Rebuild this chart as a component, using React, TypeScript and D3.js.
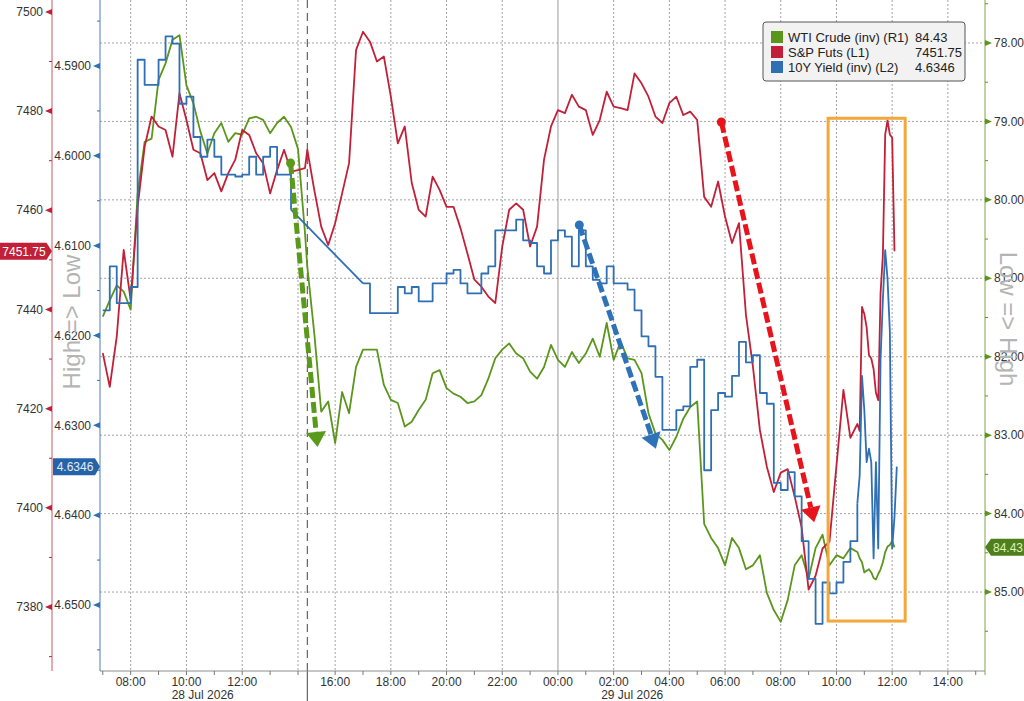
import { useEffect, useRef } from 'react';
import * as d3 from 'd3';

const WIDTH = 1024;
const HEIGHT = 701;

// Values. Session 1: 28 Jul 07:00-14:15 every 15 min,
// the chart then skips to 15:00; session 2 runs to 29 Jul 10:45 every 15 min,
// and the busy last stretch 10:50-12:10 is read every 5 min.
const session1Start = new Date(2026, 6, 28, 7, 0);
const session1End = new Date(2026, 6, 28, 14, 15);
const session2Start = new Date(2026, 6, 28, 15, 0);
const session2End = new Date(2026, 6, 29, 10, 45);
const tailStart = new Date(2026, 6, 29, 10, 50);
const tailEnd = new Date(2026, 6, 29, 12, 10);

const spxSession1 = [
  7431.2, 7424.4, 7434.5, 7452.0, 7441.9, 7460.7, 7472.8, 7478.9, 7476.9, 7476.2,
  7470.8, 7483.6, 7478.2, 7472.2, 7471.5, 7466.1, 7467.5, 7463.8, 7467.5, 7470.2,
  7476.2, 7475.2, 7471.5, 7469.5, 7463.4, 7468.1, 7472.2, 7467.8, 7468.1, 7468.5,
];
const spxSession2 = [
  7472.2, 7464.1, 7456.7, 7453.0, 7457.4, 7463.4, 7469.5, 7492.3, 7496.0, 7494.0,
  7490.0, 7491.0, 7482.9, 7473.5, 7476.9, 7465.5, 7460.1, 7458.7, 7466.8, 7464.1,
  7460.7, 7460.7, 7456.4, 7451.3, 7446.0, 7444.6, 7442.6, 7441.3, 7452.7, 7460.1,
  7461.4, 7460.1, 7452.7, 7456.7, 7470.2, 7476.9, 7480.2, 7479.6, 7483.3, 7480.9,
  7480.2, 7475.2, 7478.2, 7483.9, 7480.9, 7480.6, 7480.2, 7487.6, 7485.6, 7482.9,
  7478.9, 7477.6, 7481.6, 7482.9, 7479.2, 7479.9, 7478.2, 7462.7, 7460.7, 7465.8,
  7458.7, 7453.4, 7457.4, 7438.9, 7428.5, 7415.7, 7408.3, 7403.2, 7407.1, 7407.8,
  7402.3, 7396.0, 7383.5, 7386.3, 7391.8, 7393.2, 7408.5, 7423.8, 7414.1, 7416.9,
];
const spxTail = [
  7415.5, 7440.5, 7439.1, 7436.4, 7430.8, 7430.1, 7428.0, 7423.2, 7421.7, 7443.3,
  7451.0, 7475.3, 7478.1, 7475.3, 7474.6, 7451.75, null,
];

const wtiSession1 = [
  81.49, 81.28, 81.09, 81.17, 81.40, 79.92, 79.26, 79.22, 78.47, 78.26,
  77.96, 77.90, 78.54, 78.77, 79.13, 79.41, 79.15, 79.02, 79.26, 79.15,
  79.17, 78.96, 78.94, 78.98, 79.15, 79.02, 78.94, 79.07, 79.35, 80.42,
];
const wtiSession2 = [
  80.85, 81.70, 82.70, 82.57, 83.10, 82.45, 82.72, 82.13, 81.91, 81.91,
  81.91, 82.36, 82.55, 82.59, 82.89, 82.83, 82.68, 82.55, 82.21, 82.17,
  82.40, 82.47, 82.51, 82.59, 82.57, 82.49, 82.28, 82.02, 81.91, 81.83,
  81.96, 82.02, 82.19, 82.28, 82.13, 81.85, 82.04, 82.13, 81.94, 82.08,
  81.96, 81.77, 82.00, 81.57, 82.04, 81.81, 82.02, 82.04, 82.21, 82.72,
  82.98, 83.06, 83.19, 83.02, 82.79, 82.64, 82.57, 84.13, 84.31, 84.44,
  84.66, 84.31, 84.44, 84.71, 84.66, 84.53, 85.01, 85.23, 85.38, 85.10,
  84.66, 84.53, 84.83, 84.44, 84.27, 84.66, 84.53, 84.57, 84.44, 84.49,
];
const wtiTail = [
  84.57, 84.62, 84.75, 84.73, 84.71, 84.75, 84.82, 84.84, 84.77, 84.71,
  84.62, 84.49, 84.42, 84.40, 84.35, 84.43, null,
];

// null = no prints (the line is bridged straight across)
const yieldSession1 = [
  4.6172, 4.6123, 4.6164, 4.6164, 4.6146, 4.5893, 4.5921, 4.5921, 4.5893, 4.5867,
  4.5875, 4.5942, 4.5934, 4.5979, 4.6001, 4.5982, 4.6001, 4.6021, 4.6021, 4.6023,
  4.6021, 4.6001, 4.6021, 4.6001, 4.5990, 4.6021, 4.6021, 4.6060, null, null,
];
const yieldSession2 = [
  null, null, null, null, null, null, null, null, 4.6142, 4.6175,
  4.6175, 4.6175, 4.6175, 4.6146, 4.6153, 4.6146, 4.6162, 4.6162, 4.6142, 4.6142,
  4.6131, 4.6127, 4.6142, 4.6153, 4.6153, 4.6131, 4.6123, 4.6083, 4.6083, 4.6083,
  4.6071, 4.6094, 4.6097, 4.6123, 4.6131, 4.6094, 4.6083, 4.6090, 4.6123, 4.6083,
  4.6123, 4.6138, 4.6142, 4.6123, 4.6142, 4.6142, 4.6149, 4.6172, 4.6201, 4.6212,
  4.6246, 4.6305, 4.6305, 4.6283, 4.6279, 4.6235, 4.6227, 4.6350, 4.6283, 4.6264,
  4.6268, 4.6245, 4.6207, 4.6230, 4.6222, 4.6264, 4.6276, 4.6364, 4.6372, 4.6352,
  4.6379, 4.6429, 4.6471, 4.6521, 4.6475, 4.6487, 4.6475, 4.6452, 4.6429, 4.6387,
];
const yieldTail = [
  4.6356, 4.6245, 4.6283, 4.6341, 4.6326, 4.6341, 4.6448, 4.6341, 4.6437, 4.6226,
  4.6160, 4.6105, 4.6137, 4.6195, 4.6437, 4.6402, 4.6346,
];

const spxTicks = [7380, 7400, 7420, 7440, 7460, 7480, 7500];
const yieldTicks = [4.59, 4.6, 4.61, 4.62, 4.63, 4.64, 4.65];
const wtiTicks = [78, 79, 80, 81, 82, 83, 84, 85];

const dateLabels = [
  { t: new Date(2026, 6, 28, 10, 35), label: '28 Jul 2026' },
  { t: new Date(2026, 6, 29, 2, 40), label: '29 Jul 2026' },
];

// hand-drawn annotations, in data terms
const arrows = [
  { axis: 'wti', from: [new Date(2026, 6, 28, 13, 44), 79.53], to: [new Date(2026, 6, 28, 15, 22), 83.15], color: '#5a9a1a' },
  { axis: 'yield', from: [new Date(2026, 6, 29, 0, 46), 4.6077], to: [new Date(2026, 6, 29, 3, 31), 4.6326], color: '#2f72b8' },
  { axis: 'spx', from: [new Date(2026, 6, 29, 5, 52), 7477.8], to: [new Date(2026, 6, 29, 9, 12), 7397.1], color: '#e8141b' },
] as const;
const highlight = { from: new Date(2026, 6, 29, 9, 42), to: new Date(2026, 6, 29, 12, 28), top: 78.96, bottom: 85.37 };

const FONT = "'Liberation Sans', Arial, sans-serif";

type Pt = { t: Date; v: number };

export default function App() {
  const svgRef = useRef<SVGSVGElement>(null);

  useEffect(() => {
    if (!svgRef.current) return;
    const svg = d3.select(svgRef.current);
    svg.selectAll('*').remove();

    const plotLeft = 100;
    const plotRight = 985;
    const plotTop = 0;
    const plotBottom = 671;
    const breakX = 307.3;

    // the time axis squeezes out 14:20-15:00
    const x = d3.scaleTime<number>()
      .domain([new Date(2026, 6, 28, 6, 54), new Date(2026, 6, 28, 14, 20), new Date(2026, 6, 28, 15, 0), new Date(2026, 6, 29, 15, 20)])
      .range([plotLeft, breakX, breakX, plotRight]);
    const ySpx = d3.scaleLinear().domain([7367.3, 7502.4]).range([670, 0]);
    const yYield = d3.scaleLinear().domain([4.58265, 4.65724]).range([0, 670]);
    const yWti = d3.scaleLinear().domain([77.452, 85.994]).range([0, 670]);

    const times = [
      ...d3.timeMinute.every(15)!.range(session1Start, d3.timeMinute.offset(session1End, 1)),
      ...d3.timeMinute.every(15)!.range(session2Start, d3.timeMinute.offset(session2End, 1)),
      ...d3.timeMinute.every(5)!.range(tailStart, d3.timeMinute.offset(tailEnd, 1)),
    ];
    // consecutive runs of prints; a null ends a run
    const toRuns = (values: (number | null)[]) => {
      const runs: Pt[][] = [];
      let cur: Pt[] = [];
      values.forEach((v, i) => {
        if (v == null) {
          if (cur.length) runs.push(cur);
          cur = [];
        } else cur.push({ t: times[i], v });
      });
      if (cur.length) runs.push(cur);
      return runs;
    };

    const spx = toRuns([...spxSession1, ...spxSession2, ...spxTail]).flat();
    const wti = toRuns([...wtiSession1, ...wtiSession2, ...wtiTail]).flat();
    const yldRuns = toRuns([...yieldSession1, ...yieldSession2, ...yieldTail]);
    const yld = yldRuns.flat();

    const spxColor = '#c22038';
    const yieldColor = '#2f6fb4';
    const wtiColor = '#5b961c';

    const legendItems = [
      { name: 'WTI Crude (inv) (R1)', color: wtiColor, value: wti[wti.length - 1].v.toFixed(2) },
      { name: 'S&P Futs (L1)', color: spxColor, value: spx[spx.length - 1].v.toFixed(2) },
      { name: '10Y Yield (inv) (L2)', color: yieldColor, value: yld[yld.length - 1].v.toFixed(4) },
    ];

    // grid
    const grid = svg.append('g').attr('stroke', '#a3a3a3').attr('stroke-dasharray', '2,2').attr('stroke-width', 1);
    grid.selectAll('line.h')
      .data(wtiTicks)
      .join('line')
      .attr('x1', plotLeft).attr('x2', plotRight)
      .attr('y1', d => yWti(d)).attr('y2', d => yWti(d));

    const labelTimes = d3.timeHour.every(2)!.range(new Date(2026, 6, 28, 8), new Date(2026, 6, 29, 15));
    grid.selectAll('line.v')
      .data(labelTimes.filter(t => +t !== +new Date(2026, 6, 29, 0)))
      .join('line')
      .attr('x1', d => x(d)).attr('x2', d => x(d))
      .attr('y1', plotTop).attr('y2', plotBottom);

    svg.append('line')
      .attr('x1', x(new Date(2026, 6, 29, 0))).attr('x2', x(new Date(2026, 6, 29, 0)))
      .attr('y1', plotTop).attr('y2', plotBottom)
      .attr('stroke', '#9a9a9a');

    svg.append('line')
      .attr('x1', breakX).attr('x2', breakX)
      .attr('y1', plotTop).attr('y2', plotBottom)
      .attr('stroke', '#444').attr('stroke-dasharray', '8,5');
    svg.append('line')
      .attr('x1', breakX).attr('x2', breakX)
      .attr('y1', plotBottom).attr('y2', HEIGHT)
      .attr('stroke', '#444');

    // x axis
    svg.append('line')
      .attr('x1', plotLeft).attr('x2', plotRight)
      .attr('y1', plotBottom).attr('y2', plotBottom)
      .attr('stroke', '#8c8c8c');
    const hourTicks = d3.timeHour.every(1)!.range(new Date(2026, 6, 28, 7), new Date(2026, 6, 29, 16))
      .filter(t => t < new Date(2026, 6, 28, 14, 20) || t > new Date(2026, 6, 28, 15, 0));
    svg.append('g')
      .selectAll('line')
      .data(hourTicks)
      .join('line')
      .attr('x1', d => x(d)).attr('x2', d => x(d))
      .attr('y1', plotBottom).attr('y2', plotBottom + 4)
      .attr('stroke', '#777');

    svg.append('g')
      .attr('font-family', FONT).attr('font-size', 12).attr('fill', '#333').attr('text-anchor', 'middle')
      .selectAll('text')
      .data(labelTimes.filter(t => +t !== +new Date(2026, 6, 28, 14)))
      .join('text')
      .attr('x', d => x(d))
      .attr('y', 686)
      .text(d => d3.timeFormat('%H:%M')(d));

    svg.append('g')
      .attr('font-family', FONT).attr('font-size', 12).attr('fill', '#333').attr('text-anchor', 'middle')
      .selectAll('text')
      .data(dateLabels)
      .join('text')
      .attr('x', d => x(d.t))
      .attr('y', 699)
      .text(d => d.label);

    // S&P axis (L1)
    const spxAxisX = 52;
    svg.append('line').attr('x1', spxAxisX).attr('x2', spxAxisX).attr('y1', 0).attr('y2', plotBottom).attr('stroke', '#c65a6c');
    svg.append('g').selectAll('line')
      .data(d3.range(7370, 7500, 20))
      .join('line')
      .attr('x1', spxAxisX - 3).attr('x2', spxAxisX)
      .attr('y1', d => ySpx(d)).attr('y2', d => ySpx(d))
      .attr('stroke', spxColor);
    svg.append('g').selectAll('path')
      .data(spxTicks)
      .join('path')
      .attr('d', d => `M${spxAxisX},${ySpx(d) - 3}L${spxAxisX - 7},${ySpx(d)}L${spxAxisX},${ySpx(d) + 3}Z`)
      .attr('fill', spxColor);
    svg.append('g')
      .attr('font-family', FONT).attr('font-size', 12).attr('fill', '#333').attr('text-anchor', 'end')
      .selectAll('text')
      .data(spxTicks)
      .join('text')
      .attr('x', spxAxisX - 9)
      .attr('y', d => ySpx(d))
      .attr('dy', '0.35em')
      .text(d => d);

    // 10Y axis (L2)
    svg.append('line').attr('x1', plotLeft).attr('x2', plotLeft).attr('y1', 0).attr('y2', plotBottom).attr('stroke', '#4f7fb5');
    svg.append('g').selectAll('line')
      .data(d3.range(4.585, 4.66, 0.01))
      .join('line')
      .attr('x1', plotLeft - 3).attr('x2', plotLeft)
      .attr('y1', d => yYield(d)).attr('y2', d => yYield(d))
      .attr('stroke', yieldColor);
    svg.append('g').selectAll('path')
      .data(yieldTicks)
      .join('path')
      .attr('d', d => `M${plotLeft},${yYield(d) - 3}L${plotLeft - 7},${yYield(d)}L${plotLeft},${yYield(d) + 3}Z`)
      .attr('fill', yieldColor);
    svg.append('g')
      .attr('font-family', FONT).attr('font-size', 12).attr('fill', '#333').attr('text-anchor', 'end')
      .selectAll('text')
      .data(yieldTicks)
      .join('text')
      .attr('x', plotLeft - 9)
      .attr('y', d => yYield(d))
      .attr('dy', '0.35em')
      .text(d => d.toFixed(4));

    // WTI axis (R1)
    svg.append('line').attr('x1', plotRight).attr('x2', plotRight).attr('y1', 0).attr('y2', plotBottom + 4).attr('stroke', '#7fa84a');
    svg.append('g').selectAll('line')
      .data(d3.range(77.5, 86, 1))
      .join('line')
      .attr('x1', plotRight).attr('x2', plotRight + 3)
      .attr('y1', d => yWti(d)).attr('y2', d => yWti(d))
      .attr('stroke', wtiColor);
    svg.append('g').selectAll('path')
      .data(wtiTicks)
      .join('path')
      .attr('d', d => `M${plotRight},${yWti(d) - 3}L${plotRight + 7},${yWti(d)}L${plotRight},${yWti(d) + 3}Z`)
      .attr('fill', wtiColor);
    svg.append('g')
      .attr('font-family', FONT).attr('font-size', 12).attr('fill', '#333')
      .selectAll('text')
      .data(wtiTicks)
      .join('text')
      .attr('x', plotRight + 9)
      .attr('y', d => yWti(d))
      .attr('dy', '0.35em')
      .text(d => d.toFixed(2));

    // side captions
    svg.append('text')
      .attr('transform', 'translate(72,322) rotate(-90)')
      .attr('text-anchor', 'middle').attr('dy', '0.35em')
      .attr('font-family', FONT).attr('font-size', 24).attr('fill', '#b4b4b4')
      .text('High => Low');
    svg.append('text')
      .attr('transform', 'translate(1008,319) rotate(90)')
      .attr('text-anchor', 'middle').attr('dy', '0.35em')
      .attr('font-family', FONT).attr('font-size', 24).attr('fill', '#b4b4b4')
      .text('Low => High');

    // series
    const lines = svg.append('g').attr('fill', 'none').attr('stroke-width', 1.8).attr('stroke-linejoin', 'round');
    const linear = (y: d3.ScaleLinear<number, number>) => d3.line<Pt>().x(d => x(d.t)).y(d => y(d.v));
    lines.append('path').datum(wti).attr('stroke', wtiColor).attr('d', linear(yWti));
    lines.append('path').datum(spx).attr('stroke', spxColor).attr('d', linear(ySpx));

    // yields print in ticks: stepped within each 15-min run, straight across the gap
    // and through the densely read last stretch
    const yieldStep = d3.line<Pt>().x(d => x(d.t)).y(d => yYield(d.v)).curve(d3.curveStepAfter);
    yldRuns.forEach((run, i) => {
      const stepped = run.filter(d => d.t <= session2End);
      const dense = run.filter(d => d.t >= session2End);
      if (stepped.length) lines.append('path').datum(stepped).attr('stroke', yieldColor).attr('d', yieldStep);
      if (dense.length > 1) lines.append('path').datum(dense).attr('stroke', yieldColor).attr('d', linear(yYield));
      if (i > 0) {
        const prev = yldRuns[i - 1][yldRuns[i - 1].length - 1];
        lines.append('path').datum([prev, run[0]]).attr('stroke', yieldColor).attr('d', linear(yYield));
      }
    });

    // annotations
    const yFor = { wti: yWti, yield: yYield, spx: ySpx };
    const ann = svg.append('g');
    arrows.forEach(a => {
      const y = yFor[a.axis];
      const p0 = [x(a.from[0] as Date), y(a.from[1] as number)];
      const p1 = [x(a.to[0] as Date), y(a.to[1] as number)];
      const len = Math.hypot(p1[0] - p0[0], p1[1] - p0[1]);
      const ux = (p1[0] - p0[0]) / len;
      const uy = (p1[1] - p0[1]) / len;
      const bx = p1[0] - ux * 15;
      const by = p1[1] - uy * 15;
      ann.append('line')
        .attr('x1', p0[0]).attr('y1', p0[1]).attr('x2', bx).attr('y2', by)
        .attr('stroke', a.color).attr('stroke-width', 5).attr('stroke-dasharray', '11,4');
      ann.append('circle').attr('cx', p0[0]).attr('cy', p0[1]).attr('r', 4.5).attr('fill', a.color);
      ann.append('path')
        .attr('d', `M${p1[0]},${p1[1]}L${bx - uy * 10},${by + ux * 10}L${bx + uy * 10},${by - ux * 10}Z`)
        .attr('fill', a.color);
    });
    ann.append('rect')
      .attr('x', x(highlight.from)).attr('y', yWti(highlight.top))
      .attr('width', x(highlight.to) - x(highlight.from))
      .attr('height', yWti(highlight.bottom) - yWti(highlight.top))
      .attr('fill', 'none').attr('stroke', '#f2a83b').attr('stroke-width', 3);

    // last-value tags
    const ys = ySpx(spx[spx.length - 1].v);
    svg.append('path').attr('d', `M0,${ys - 8.5}H46.5L52,${ys}L46.5,${ys + 8.5}H0Z`).attr('fill', spxColor);
    svg.append('text').attr('x', 24).attr('y', ys).attr('dy', '0.36em').attr('text-anchor', 'middle')
      .attr('font-family', FONT).attr('font-size', 12).attr('fill', '#fff').text(legendItems[1].value);

    const yy = yYield(yld[yld.length - 1].v);
    svg.append('path').attr('d', `M53,${yy - 8.5}H95L100,${yy}L95,${yy + 8.5}H53Z`).attr('fill', '#2563a6');
    svg.append('text').attr('x', 75).attr('y', yy).attr('dy', '0.36em').attr('text-anchor', 'middle')
      .attr('font-family', FONT).attr('font-size', 12).attr('fill', '#e2ecf8').text(legendItems[2].value);

    const yw = yWti(wti[wti.length - 1].v);
    svg.append('path').attr('d', `M${plotRight},${yw}L${plotRight + 6},${yw - 8.5}H${WIDTH}V${yw + 8.5}H${plotRight + 6}Z`).attr('fill', '#4e7f1c');
    svg.append('text').attr('x', 1008).attr('y', yw).attr('dy', '0.36em').attr('text-anchor', 'middle')
      .attr('font-family', FONT).attr('font-size', 12).attr('fill', '#dcf2bf').text(legendItems[0].value);

    // legend
    const legend = svg.append('g').attr('transform', 'translate(763,22)');
    legend.append('rect').attr('width', 202).attr('height', 59).attr('rx', 3)
      .attr('fill', '#f2f2f2').attr('stroke', '#555');
    const row = legend.selectAll('g')
      .data(legendItems)
      .join('g')
      .attr('transform', (_, i) => `translate(0,${15 + i * 15})`);
    row.append('rect').attr('x', 8).attr('y', -6).attr('width', 12).attr('height', 12).attr('fill', d => d.color);
    row.append('text').attr('x', 25).attr('dy', '0.35em')
      .attr('font-family', FONT).attr('font-size', 13).attr('fill', '#222').text(d => d.name);
    row.append('text').attr('x', 152).attr('dy', '0.35em')
      .attr('font-family', FONT).attr('font-size', 13).attr('fill', '#222').text(d => d.value);
  }, []);

  return (
    <div style={{ position: 'absolute', left: 0, top: 0, width: WIDTH, height: HEIGHT, background: '#fff' }}>
      <svg ref={svgRef} width={WIDTH} height={HEIGHT} style={{ display: 'block' }} />
    </div>
  );
}
